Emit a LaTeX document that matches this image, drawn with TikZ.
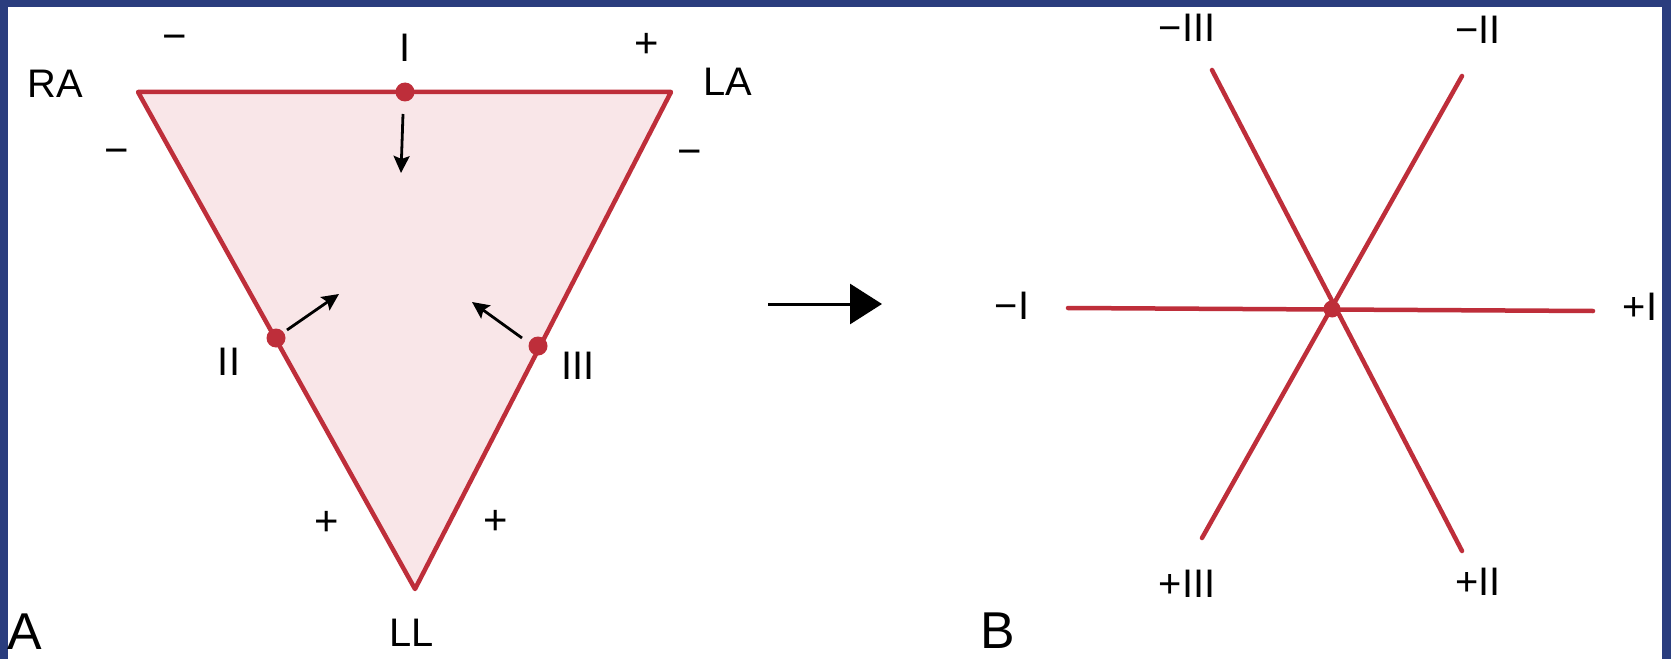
\documentclass[tikz,border=0pt]{standalone}
\usepackage{fontspec}
\setmainfont{Liberation Sans}
\usetikzlibrary{arrows.meta}
\definecolor{lead}{HTML}{BE2E3A}
\definecolor{pink}{HTML}{F9E6E8}
\definecolor{frame}{HTML}{2A3D7E}
\definecolor{framelight}{HTML}{5272B8}

\begin{document}
\begin{tikzpicture}[x=1bp,y=-1bp,every node/.style={inner sep=0pt,font=\fontsize{40}{40}\selectfont},
 sgn/.style={font=\fontsize{42}{42}\selectfont},
 panel/.style={font=\fontsize{52}{52}\selectfont},
 lead/.style={draw=lead,line width=4.5bp,line cap=round,line join=round},
 dot/.style={circle,fill=lead,minimum size=19bp},
 vec/.style={-{Stealth[length=17bp,width=16bp,inset=3bp]},line width=2.8bp}]
\useasboundingbox (0,0) rectangle (1671,659);
\fill[frame] (0,0) rectangle (1671,659);
\shade[left color=frame,middle color=framelight,right color=frame] (0,0) rectangle (1671,7);
\fill[white] (8,7) rectangle (1662,659);
% A: Einthoven triangle
\coordinate (ra) at (138,92);\coordinate (la) at (671,92);\coordinate (ll) at (415,589);
\filldraw[lead,fill=pink] (ra)--(la)--(ll)--cycle;
\node[dot] (pI) at (405,92) {};\node[dot] (pII) at (276,338) {};\node[dot] (pIII) at (538,346) {};
\coordinate (tI) at (403,114);\coordinate (hI) at (401,173);
\coordinate (tII) at (287,330);\coordinate (hII) at (339,294);
\coordinate (tIII) at (522,338);\coordinate (hIII) at (472,302);
\draw[vec] (tI)--(hI);\draw[vec] (tII)--(hII);\draw[vec] (tIII)--(hIII);
\node (RA) at (55,84) {RA};\node (LA) at (728,82) {LA};\node (LL) at (412,633) {LL};
\node (lI) at (405,48) {I};\node (lII) at (229,362) {II};\node (lIII) at (578,366) {III};
\node[sgn] (s1) at (175,43) {−};\node[sgn] (s2) at (117,157) {−};\node[sgn] (s3) at (647,45) {+};
\node[sgn] (s4) at (690,158) {−};\node[sgn] (s5) at (327,523) {+};\node[sgn] (s6) at (496,522) {+};
\node[panel] (A) at (25,632) {A};
% transition arrow
\coordinate (from) at (768,304);\coordinate (to) at (882,304);
\draw[-{Triangle[length=32bp,width=40bp]},line width=3bp] (from)--(to);
% B: hexaxial reference
\node[dot,minimum size=17bp] (ctr) at (1332,309) {};
\coordinate (n1) at (1068,308);\coordinate (p1) at (1593,311);
\coordinate (n3) at (1212,70);\coordinate (p2) at (1462,551);
\coordinate (n2) at (1462,76);\coordinate (p3) at (1202,538);
\draw[lead] (n1)--(p1);\draw[lead] (n3)--(p2);\draw[lead] (n2)--(p3);
\node (ln1) at (1012,306) {−I};\node (lp1) at (1640,307) {+I};
\node (ln3) at (1187,28) {−III};\node (ln2) at (1478,30) {−II};
\node (lp3) at (1187,584) {+III};\node (lp2) at (1478,582) {+II};
\node[panel] (B) at (998,631) {B};
\end{tikzpicture}
\end{document}
